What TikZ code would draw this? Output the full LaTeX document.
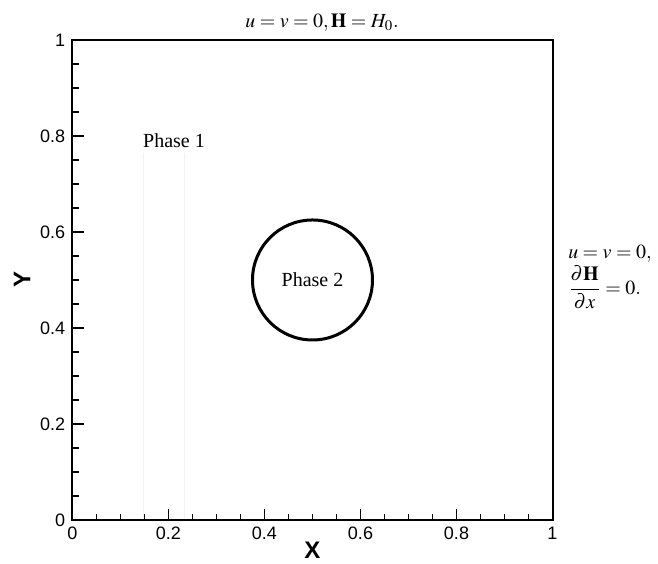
\documentclass[tikz,border=0pt]{standalone}
\usepackage{amsmath}
\usepackage{mathptmx}
\usepackage{fontspec}
\setmainfont{Liberation Serif}
\setsansfont{Liberation Sans}

\begin{document}
\begin{tikzpicture}[x=240pt,y=240pt,
    frame/.style={line width=1pt},
    ring/.style={draw,circle,line width=1.5pt,minimum size=60pt,inner sep=0pt},
    tickmark/.style={line width=0.7pt},
    ticklabel/.style={font=\sffamily\fontsize{9}{9}\selectfont,inner sep=0pt},
    axislabel/.style={font=\sffamily\bfseries\fontsize{12}{12}\selectfont,inner sep=0pt},
    phase/.style={font=\fontsize{10}{12}\selectfont,inner sep=0pt},
    bc/.style={font=\fontsize{10}{12}\selectfont,inner sep=0pt,align=left}]
  \useasboundingbox (-0.151,-0.0896) rectangle (1.2198,1.0833);
  \coordinate (o) at (0,0);
  \coordinate (c) at (1,1);
  \draw[black!5,line width=0.5pt] (0.147,0) -- (0.147,0.765) (0.234,0) -- (0.234,0.765);
  \draw[frame] (o) rectangle (c);
  \foreach \i in {1,...,19}{
    \pgfmathsetmacro{\t}{\i/20}
    \pgfmathsetmacro{\len}{ifthenelse(mod(\i,4)==0,0.023,0.0135)}
    \draw[tickmark] (\t,0) -- ++(0,\len);
    \draw[tickmark] (0,\t) -- ++(\len,0);
  }
  \foreach \v in {0,0.2,0.4,0.6,0.8,1}{
    \node[ticklabel,anchor=north] (xl\v) at (\v,-0.0146) {\v};
    \node[ticklabel,anchor=east] (yl\v) at (-0.0145,\v) {\v};
  }
  \node[axislabel] (xlab) at (0.5,-0.0625) {X};
  \node[axislabel,rotate=90] (ylab) at (-0.105,0.5) {Y};
  \node[bc] (top) at (0.52,1.035) {$u=v=0,\mathbf{H}=H_0.$};
  \node[bc,anchor=west] (right) at (1.032,0.507)
    {$u=v=0,$\\[1pt]$\dfrac{\partial\mathbf{H}}{\partial x}=0.$};
  \node[phase] (p1) at (0.2115,0.79) {Phase 1};
  \node[ring] (drop) at (0.5,0.5) {};
  \node[phase] (p2) at (drop) {Phase 2};
\end{tikzpicture}
\end{document}
